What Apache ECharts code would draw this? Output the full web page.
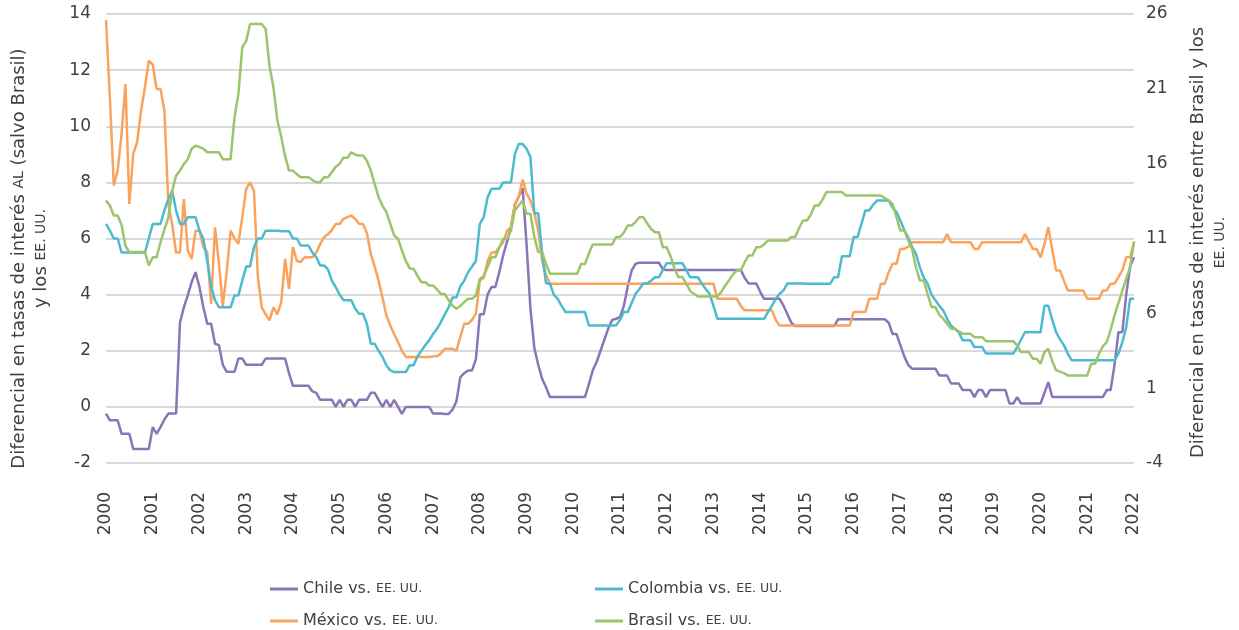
<!DOCTYPE html>
<html>
<head>
<meta charset="utf-8">
<script src="https://cdn.jsdelivr.net/npm/echarts@6/dist/echarts.min.js"></script>
<style>
  html, body { margin: 0; padding: 0; background: #fff; }
  #chart { width: 1239px; height: 630px; }
</style>
</head>
<body>
<div id="chart"></div>
<script>
// serie mensual, enero 2000 a enero 2022
const startYear = 2000
const endYear = 2022
const rightTicks = [-4, 1, 6, 11, 16, 21, 26]

const chile = [
  -0.24, -0.48, -0.48, -0.48, -0.96, -0.96, -0.96, -1.5, -1.5, -1.5, -1.5, -1.5,
  -0.72, -0.96, -0.72, -0.45, -0.24, -0.24, -0.24, 3.0, 3.55, 3.97, 4.45, 4.8,
  4.27, 3.55, 2.96, 2.96, 2.25, 2.2, 1.5, 1.25, 1.25, 1.25, 1.72, 1.72,
  1.5, 1.5, 1.5, 1.5, 1.5, 1.72, 1.72, 1.72, 1.72, 1.72, 1.72, 1.2,
  0.75, 0.75, 0.75, 0.75, 0.75, 0.55, 0.5, 0.25, 0.25, 0.25, 0.25, 0.0,
  0.25, 0.0, 0.25, 0.25, 0.0, 0.25, 0.25, 0.25, 0.5, 0.5, 0.25, 0.0,
  0.25, 0.0, 0.25, 0.0, -0.25, 0.0, 0.0, 0.0, 0.0, 0.0, 0.0, 0.0,
  -0.24, -0.24, -0.24, -0.25, -0.25, -0.1, 0.2, 1.06, 1.2, 1.3, 1.3, 1.7,
  3.3, 3.3, 4.0, 4.27, 4.27, 4.8, 5.4, 5.9, 6.4, 7.2, 7.5, 7.8,
  5.8, 3.5, 2.1, 1.5, 1.0, 0.7, 0.35, 0.35, 0.35, 0.35, 0.35, 0.35,
  0.35, 0.35, 0.35, 0.35, 0.8, 1.3, 1.6, 2.0, 2.4, 2.8, 3.1, 3.14,
  3.2, 3.6, 4.3, 4.86, 5.1, 5.14, 5.14, 5.14, 5.14, 5.14, 5.14, 4.9,
  4.88, 4.88, 4.88, 4.88, 4.88, 4.88, 4.88, 4.88, 4.88, 4.88, 4.88, 4.88,
  4.88, 4.88, 4.88, 4.88, 4.88, 4.88, 4.88, 4.88, 4.6, 4.4, 4.4, 4.4,
  4.1, 3.85, 3.85, 3.85, 3.85, 3.85, 3.6, 3.3, 3.0, 2.88, 2.88, 2.88,
  2.88, 2.88, 2.88, 2.88, 2.88, 2.88, 2.88, 2.88, 3.12, 3.12, 3.12, 3.12,
  3.12, 3.12, 3.12, 3.12, 3.12, 3.12, 3.12, 3.12, 3.12, 3.0, 2.6, 2.6,
  2.2, 1.8, 1.5, 1.36, 1.36, 1.36, 1.36, 1.36, 1.36, 1.36, 1.12, 1.12,
  1.12, 0.83, 0.83, 0.83, 0.6, 0.6, 0.6, 0.35, 0.6, 0.6, 0.35, 0.6,
  0.6, 0.6, 0.6, 0.6, 0.12, 0.12, 0.35, 0.12, 0.12, 0.12, 0.12, 0.12,
  0.12, 0.5, 0.88, 0.35, 0.35, 0.35, 0.35, 0.35, 0.35, 0.35, 0.35, 0.35,
  0.35, 0.35, 0.35, 0.35, 0.35, 0.6, 0.6, 1.5, 2.66, 2.66, 4.0, 5.0,
  5.33
]

const colombia = [
  6.52, 6.28, 6.0, 6.0, 5.5, 5.5, 5.5, 5.5, 5.5, 5.5, 5.5, 6.0,
  6.52, 6.52, 6.52, 7.0, 7.4, 7.7, 7.0, 6.52, 6.52, 6.76, 6.76, 6.76,
  6.28, 5.99, 5.2, 4.3, 3.8, 3.55, 3.55, 3.55, 3.55, 3.97, 3.97, 4.5,
  5.0, 5.0, 5.7, 6.0, 6.0, 6.28, 6.28, 6.28, 6.28, 6.26, 6.26, 6.26,
  6.0, 6.0, 5.75, 5.75, 5.75, 5.5, 5.33, 5.04, 5.04, 4.9, 4.5, 4.27,
  4.0, 3.8, 3.8, 3.8, 3.5, 3.32, 3.32, 2.96, 2.25, 2.25, 2.0, 1.78,
  1.48, 1.3, 1.24, 1.24, 1.24, 1.24, 1.48, 1.48, 1.8, 2.0, 2.2, 2.37,
  2.6, 2.78, 3.02, 3.3, 3.55, 3.9, 3.9, 4.3, 4.5, 4.8, 5.0, 5.2,
  6.52, 6.76, 7.47, 7.77, 7.77, 7.77, 8.0, 8.0, 8.0, 9.0, 9.37, 9.37,
  9.2, 8.9, 6.9, 6.9, 5.5, 4.4, 4.4, 4.0, 3.85, 3.6, 3.38, 3.38,
  3.38, 3.38, 3.38, 3.38, 2.9, 2.9, 2.9, 2.9, 2.9, 2.9, 2.9, 2.9,
  3.1, 3.38, 3.38, 3.7, 4.03, 4.2, 4.4, 4.4, 4.5, 4.62, 4.62, 4.88,
  5.12, 5.12, 5.12, 5.12, 5.12, 4.88, 4.62, 4.62, 4.62, 4.4, 4.2, 4.03,
  3.6, 3.14, 3.14, 3.14, 3.14, 3.14, 3.14, 3.14, 3.14, 3.14, 3.14, 3.14,
  3.14, 3.14, 3.38, 3.6, 3.85, 4.03, 4.15, 4.4, 4.4, 4.4, 4.4, 4.4,
  4.39, 4.39, 4.39, 4.39, 4.39, 4.39, 4.39, 4.62, 4.62, 5.37, 5.37, 5.37,
  6.05, 6.05, 6.52, 7.0, 7.0, 7.2, 7.35, 7.35, 7.35, 7.35, 7.1, 6.94,
  6.64, 6.3, 6.05, 5.7, 5.45, 4.98, 4.6, 4.39, 4.0, 3.8, 3.6, 3.44,
  3.14, 2.9, 2.78, 2.66, 2.37, 2.37, 2.37, 2.13, 2.13, 2.13, 1.9, 1.9,
  1.9, 1.9, 1.9, 1.9, 1.9, 1.9, 2.13, 2.4, 2.66, 2.66, 2.66, 2.66,
  2.66, 3.6, 3.6, 3.1, 2.66, 2.4, 2.2, 1.9, 1.66, 1.66, 1.66, 1.66,
  1.66, 1.66, 1.66, 1.66, 1.66, 1.66, 1.66, 1.66, 1.9, 2.3, 2.84, 3.85,
  3.85
]

const mexico = [
  13.79, 11.0, 7.89, 8.42, 9.73, 11.5, 7.23, 9.02, 9.43, 10.56, 11.39, 12.34,
  12.2, 11.33, 11.33, 10.56, 7.23, 6.5, 5.5, 5.5, 7.4, 5.57, 5.27, 6.28,
  6.28, 5.69, 5.5, 3.67, 6.4, 5.1, 3.6, 4.8, 6.28, 6.0, 5.81, 6.76,
  7.77, 8.0, 7.7, 4.62, 3.55, 3.3, 3.08, 3.55, 3.3, 3.73, 5.27, 4.2,
  5.69, 5.2, 5.16, 5.33, 5.33, 5.33, 5.5, 5.8, 6.05, 6.15, 6.3, 6.52,
  6.52, 6.7, 6.76, 6.82, 6.7, 6.52, 6.52, 6.2, 5.45, 5.0, 4.5, 3.9,
  3.26, 2.9, 2.6, 2.3, 2.0, 1.78, 1.78, 1.78, 1.78, 1.78, 1.78, 1.78,
  1.8, 1.8, 1.9, 2.07, 2.07, 2.07, 2.0, 2.5, 2.96, 2.96, 3.1, 3.32,
  4.5, 4.6, 5.2, 5.5, 5.5, 5.7, 5.87, 6.28, 6.4, 7.23, 7.5, 8.1,
  7.6, 7.35, 6.9, 6.28, 5.2, 4.7, 4.39, 4.39, 4.39, 4.39, 4.39, 4.39,
  4.39, 4.39, 4.39, 4.39, 4.39, 4.39, 4.39, 4.39, 4.39, 4.39, 4.39, 4.39,
  4.39, 4.39, 4.39, 4.39, 4.39, 4.39, 4.39, 4.39, 4.39, 4.39, 4.39, 4.39,
  4.39, 4.39, 4.39, 4.39, 4.39, 4.39, 4.39, 4.39, 4.39, 4.39, 4.39, 4.39,
  4.39, 3.85, 3.85, 3.85, 3.85, 3.85, 3.85, 3.6, 3.44, 3.44, 3.44, 3.44,
  3.44, 3.44, 3.44, 3.44, 3.1, 2.9, 2.9, 2.9, 2.9, 2.9, 2.9, 2.9,
  2.9, 2.9, 2.9, 2.9, 2.9, 2.9, 2.9, 2.9, 2.9, 2.9, 2.9, 2.9,
  3.38, 3.38, 3.38, 3.38, 3.85, 3.85, 3.85, 4.39, 4.39, 4.8, 5.1, 5.1,
  5.63, 5.63, 5.7, 5.87, 5.87, 5.87, 5.87, 5.87, 5.87, 5.87, 5.87, 5.87,
  6.16, 5.87, 5.87, 5.87, 5.87, 5.87, 5.87, 5.63, 5.63, 5.87, 5.87, 5.87,
  5.87, 5.87, 5.87, 5.87, 5.87, 5.87, 5.87, 5.87, 6.16, 5.9, 5.63, 5.63,
  5.33, 5.8, 6.4, 5.6, 4.86, 4.86, 4.5, 4.15, 4.15, 4.15, 4.15, 4.15,
  3.85, 3.85, 3.85, 3.85, 4.15, 4.15, 4.39, 4.39, 4.62, 4.86, 5.33, 5.33,
  5.87
]

// eje derecho
const brasil = [
  13.54, 13.2, 12.53, 12.53, 11.9, 10.5, 10.09, 10.09, 10.09, 10.09, 10.09, 9.2,
  9.75, 9.75, 10.75, 11.6, 12.4, 14.2, 15.2, 15.54, 15.98, 16.3, 17.0, 17.2,
  17.1, 17.0, 16.76, 16.76, 16.76, 16.76, 16.3, 16.3, 16.3, 19.1, 20.66, 23.77,
  24.2, 25.33, 25.33, 25.33, 25.33, 25.0, 22.5, 21.1, 18.9, 17.8, 16.5, 15.54,
  15.54, 15.3, 15.1, 15.1, 15.1, 14.9, 14.76, 14.76, 15.1, 15.1, 15.43, 15.8,
  16.0, 16.4, 16.4, 16.76, 16.6, 16.54, 16.54, 16.2, 15.54, 14.65, 13.76, 13.2,
  12.76, 12.0, 11.2, 10.98, 10.2, 9.5, 9.0, 8.97, 8.5, 8.08, 8.08, 7.86,
  7.86, 7.6, 7.3, 7.3, 6.86, 6.5, 6.3, 6.5, 6.75, 6.97, 6.97, 7.2,
  8.3, 8.5, 9.1, 9.75, 9.75, 10.4, 10.98, 10.98, 11.53, 12.87, 13.2, 13.54,
  12.65, 12.65, 11.1, 10.09, 10.09, 9.3, 8.64, 8.64, 8.64, 8.64, 8.64, 8.64,
  8.64, 8.64, 9.3, 9.3, 10.0, 10.6, 10.6, 10.6, 10.6, 10.6, 10.6, 11.1,
  11.1, 11.4, 11.87, 11.87, 12.1, 12.42, 12.42, 12.0, 11.64, 11.42, 11.42, 10.42,
  10.42, 9.8, 9.0, 8.42, 8.42, 8.0, 7.5, 7.3, 7.13, 7.13, 7.13, 7.13,
  7.13, 7.13, 7.42, 7.86, 8.2, 8.6, 8.86, 8.86, 9.4, 9.86, 9.86, 10.42,
  10.42, 10.6, 10.87, 10.87, 10.87, 10.87, 10.87, 10.87, 11.1, 11.1, 11.7, 12.2,
  12.2, 12.6, 13.2, 13.2, 13.6, 14.1, 14.1, 14.1, 14.1, 14.1, 13.87, 13.87,
  13.87, 13.87, 13.87, 13.87, 13.87, 13.87, 13.87, 13.87, 13.7, 13.54, 13.3, 12.42,
  11.53, 11.53, 10.9, 10.3, 9.08, 8.2, 8.2, 7.3, 6.42, 6.42, 5.9, 5.64,
  5.3, 4.97, 4.97, 4.8, 4.63, 4.63, 4.63, 4.41, 4.41, 4.41, 4.14, 4.14,
  4.14, 4.14, 4.14, 4.14, 4.14, 4.14, 3.85, 3.41, 3.41, 3.41, 2.97, 2.97,
  2.63, 3.4, 3.63, 2.8, 2.2, 2.1, 2.0, 1.85, 1.85, 1.85, 1.85, 1.85,
  1.85, 2.63, 2.63, 3.3, 3.8, 4.08, 4.9, 5.86, 6.7, 7.5, 8.3, 9.08,
  10.8
]

const months = []
for (let y = startYear; y <= endYear; y++)
{
  for (let m = 1; m <= 12; m++)
  {
    if (y === endYear && m > 1) break
    months.push(y + '-' + (m < 10 ? '0' + m : m))
  }
}

const textColor = '#404040'
const font = '"DejaVu Sans", Verdana, sans-serif'
const sc = { fontSize: 12.5, color: textColor, fontFamily: font }
const scName = { fontSize: 14, color: textColor, fontFamily: font }

function smallCaps(name)
{
  return name.replace('EE. UU.', '{sc|EE. UU.}')
}

function lineSeries(name, data, color, yAxisIndex)
{
  return {
    name: name,
    type: 'line',
    data: data,
    yAxisIndex: yAxisIndex,
    showSymbol: false,
    animation: false,
    lineStyle: { color: color, width: 2.5 },
    itemStyle: { color: color }
  }
}

function legendItem(name, left, top)
{
  return {
    data: [name],
    left: left,
    top: top,
    icon: 'rect',
    itemWidth: 28,
    itemHeight: 3,
    itemGap: 10,
    formatter: smallCaps,
    textStyle: { fontSize: 16, color: textColor, fontFamily: font, rich: { sc: sc } }
  }
}

const chart = echarts.init(document.getElementById('chart'))
chart.setOption({
  backgroundColor: '#fff',
  animation: false,
  grid: { left: 105, right: 101, top: 14, bottom: 167 },
  legend: [
    legendItem('Chile vs. EE. UU.', 265, 576),
    legendItem('Colombia vs. EE. UU.', 590, 576),
    legendItem('México vs. EE. UU.', 265, 608),
    legendItem('Brasil vs. EE. UU.', 590, 608)
  ],
  xAxis: {
    type: 'category',
    data: months,
    boundaryGap: false,
    axisLine: { show: false },
    axisTick: { show: false },
    splitLine: { show: false },
    axisLabel: {
      interval: function (index) { return index % 12 === 0 },
      formatter: function (value) { return value.slice(0, 4) },
      rotate: 90,
      margin: 29,
      fontSize: 17,
      color: textColor,
      fontFamily: font
    }
  },
  yAxis: [
    {
      type: 'value',
      min: -2,
      max: 14,
      interval: 2,
      axisLine: { show: false },
      axisTick: { show: false },
      splitLine: { lineStyle: { color: '#d9d9d9', width: 2 } },
      axisLabel: { fontSize: 17, color: textColor, fontFamily: font, margin: 15 },
      name: 'Diferencial en tasas de interés {sc|AL} (salvo Brasil)\ny los {sc|EE. UU.}',
      nameLocation: 'middle',
      nameRotate: 90,
      nameGap: 54,
      nameTextStyle: {
        fontSize: 18, color: textColor, fontFamily: font, lineHeight: 22,
        padding: [0, 40, 0, 0],
        rich: { sc: scName }
      }
    },
    {
      type: 'value',
      min: -4,
      max: 26,
      position: 'right',
      axisLine: { show: false },
      axisTick: { show: false },
      splitLine: { show: false },
      axisLabel: { customValues: rightTicks, fontSize: 17, color: textColor, fontFamily: font, margin: 12 },
      name: 'Diferencial en tasas de interés entre Brasil y los\n{sc|EE. UU.}',
      nameLocation: 'middle',
      nameRotate: 90,
      nameGap: 53,
      nameTextStyle: {
        fontSize: 18, color: textColor, fontFamily: font, lineHeight: 22,
        padding: [0, 8, 0, 0],
        rich: { sc: scName }
      }
    }
  ],
  series: [
    lineSeries('Chile vs. EE. UU.', chile, '#8a75b6', 0),
    lineSeries('México vs. EE. UU.', mexico, '#f9a35c', 0),
    lineSeries('Colombia vs. EE. UU.', colombia, '#4cbbd0', 0),
    lineSeries('Brasil vs. EE. UU.', brasil, '#9dc36b', 1)
  ]
})
</script>
</body>
</html>
